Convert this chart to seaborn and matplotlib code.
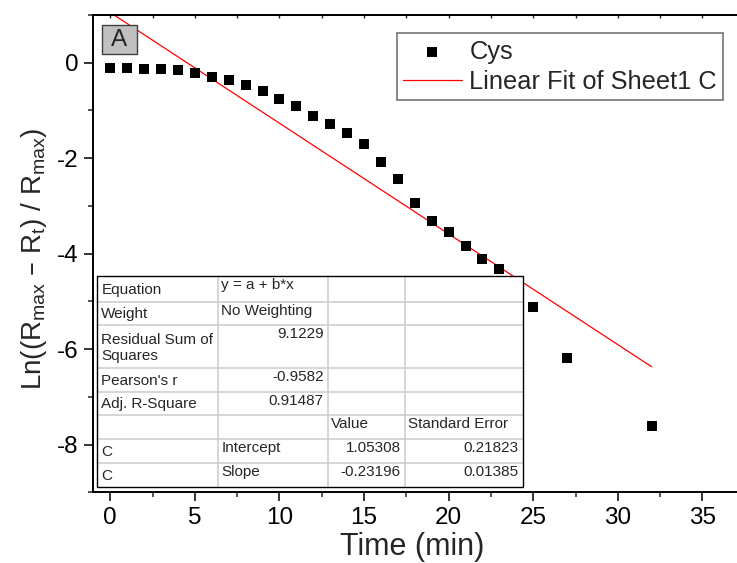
import numpy as np
import pandas as pd
import matplotlib
matplotlib.use("Agg")
import matplotlib.pyplot as plt
from matplotlib.patches import Rectangle
from matplotlib.lines import Line2D
from matplotlib.ticker import MultipleLocator
import seaborn as sns

# ---------------- data ----------------
time_min = [0, 1, 2, 3, 4, 5, 6, 7, 8, 9, 10, 11, 12, 13, 14, 15, 16, 17,
            18, 19, 20, 21, 22, 23, 25, 27, 32]
ln_ratio = [-0.12, -0.12, -0.13, -0.14, -0.16, -0.21, -0.30, -0.37, -0.47,
            -0.59, -0.75, -0.91, -1.11, -1.29, -1.47, -1.71, -2.07, -2.44,
            -2.94, -3.31, -3.54, -3.84, -4.11, -4.33, -5.12, -6.18, -7.62]
fit_intercept = 1.05308
fit_slope = -0.23196
fit_range = [0, 32]

series_label = "Cys"
fit_label = "Linear Fit of Sheet1 C"
x_ticks = [0, 5, 10, 15, 20, 25, 30, 35]
y_ticks = [0, -2, -4, -6, -8]

table_rows = [
    ["Equation", "y = a + b*x", "", ""],
    ["Weight", "No Weighting", "", ""],
    ["Residual Sum of\nSquares", "9.1229", "", ""],
    ["Pearson's r", "-0.9582", "", ""],
    ["Adj. R-Square", "0.91487", "", ""],
    ["", "", "Value", "Standard Error"],
    ["C", "Intercept", "1.05308", "0.21823"],
    ["C", "Slope", "-0.23196", "0.01385"],
]

# ---------------- style ----------------
sns.set_theme(style="ticks")
plt.rcParams["font.family"] = ["Liberation Sans", "DejaVu Sans"]
plt.rcParams["mathtext.default"] = "regular"
plt.rcParams["axes.unicode_minus"] = False

W, H = 737, 563
fig = plt.figure(figsize=(W / 100, H / 100), dpi=100)
fig.patch.set_facecolor("white")


def fx(x):
    return x / W


def fy(y):
    return 1 - y / H


ax_left, ax_right, ax_top, ax_bottom = 93.3, 753.2, 15.0, 492.3
ax = fig.add_axes([fx(ax_left), fy(ax_bottom), fx(ax_right - ax_left),
                   (ax_bottom - ax_top) / H])
ax.set_facecolor("white")

df = pd.DataFrame({"t": time_min, "v": ln_ratio})
fit_df = pd.DataFrame({"t": fit_range,
                       "v": [fit_intercept + fit_slope * t for t in fit_range]})

sns.lineplot(data=fit_df, x="t", y="v", ax=ax, color="#ff0000", lw=0.9,
             label=fit_label, zorder=2)
sns.scatterplot(data=df, x="t", y="v", ax=ax, marker="s", s=62,
                color="black", linewidth=0, label=series_label, zorder=3)

ax.set_xlim(-1, 38)
ax.set_ylim(-9, 1)
ax.set_xticks(x_ticks)
ax.set_yticks(y_ticks)
ax.xaxis.set_minor_locator(MultipleLocator(2.5))
ax.yaxis.set_minor_locator(MultipleLocator(1))

for side in ["left", "bottom", "top"]:
    ax.spines[side].set_linewidth(1.4)
    ax.spines[side].set_color("black")
ax.spines["right"].set_visible(False)

ax.tick_params(axis="both", which="major", direction="out", length=6.5,
               width=1.1, labelsize=17.5, pad=4, colors="black")
ax.tick_params(axis="both", which="minor", direction="out", length=3.6,
               width=1.1)
ax.tick_params(top=False, right=False)

sec = ax.secondary_xaxis("top")
sec.set_xticks(x_ticks)
sec.xaxis.set_minor_locator(MultipleLocator(2.5))
sec.tick_params(which="both", direction="in", length=2.5, width=1.0,
                labeltop=False)
sec.spines["top"].set_linewidth(1.4)

ax.set_xlabel("Time (min)", fontsize=22)
ax.set_ylabel("Ln((R$_{max}$ – R$_{t}$) / R$_{max}$)", fontsize=20)
ax.xaxis.set_label_coords((412 - ax_left) / (ax_right - ax_left), -0.084)
ax.yaxis.set_label_coords((49 - ax_left) / (ax_right - ax_left), 0.49)

# legend
handles, labels = ax.get_legend_handles_labels()
order = [labels.index(series_label), labels.index(fit_label)]
leg = ax.legend([handles[i] for i in order], [labels[i] for i in order],
                loc="upper right", bbox_to_anchor=(fx(723.3), fy(33.3)),
                bbox_transform=fig.transFigure, borderaxespad=0,
                fontsize=18.3, frameon=True, fancybox=False, framealpha=1,
                edgecolor="#808080", handlelength=2.3, handletextpad=0.3,
                labelspacing=0.25, borderpad=0.25, markerscale=1.0)
leg.get_frame().set_linewidth(1.3)

# "A" label box
fig.add_artist(Rectangle((fx(101.7), fy(54)), fx(35), 29 / H,
                         transform=fig.transFigure, facecolor="#c0c0c0",
                         edgecolor="#404040", lw=1.0, zorder=5))
fig.text(fx(119.2), fy(40), "A", fontsize=17.5, ha="center", va="center",
         zorder=6)

# ---------------- result table ----------------
col_edges = [97.3, 218.3, 328.3, 405.3, 523.3]
row_edges = [276, 301.7, 325, 368.3, 391.7, 415, 439.3, 462.7, 486.7]

fig.add_artist(Rectangle((fx(col_edges[0]), fy(row_edges[-1])),
                         fx(col_edges[-1] - col_edges[0]),
                         (row_edges[-1] - row_edges[0]) / H,
                         transform=fig.transFigure, facecolor="white",
                         edgecolor="none", zorder=5))
for xe in col_edges[1:-1]:
    fig.add_artist(Line2D([fx(xe), fx(xe)], [fy(row_edges[0]), fy(row_edges[-1])],
                          transform=fig.transFigure, color="#cccccc", lw=1.1,
                          zorder=6))
for ye in row_edges[1:-1]:
    fig.add_artist(Line2D([fx(col_edges[0]), fx(col_edges[-1])], [fy(ye), fy(ye)],
                          transform=fig.transFigure, color="#cccccc", lw=1.1,
                          zorder=6))
fig.add_artist(Rectangle((fx(col_edges[0]), fy(row_edges[-1])),
                         fx(col_edges[-1] - col_edges[0]),
                         (row_edges[-1] - row_edges[0]) / H,
                         transform=fig.transFigure, facecolor="none",
                         edgecolor="black", lw=1.0, zorder=7))


def is_number(s):
    try:
        float(s)
        return True
    except ValueError:
        return False


for r, row in enumerate(table_rows):
    top, bot = row_edges[r], row_edges[r + 1]
    for c, txt in enumerate(row):
        if not txt:
            continue
        left, right = col_edges[c], col_edges[c + 1]
        if c == 0:
            fig.text(fx(left + 4), fy((top + bot) / 2 + 1), txt, fontsize=11,
                     ha="left", va="center", linespacing=1.2, zorder=8)
        elif is_number(txt):
            fig.text(fx(right - 4.5), fy(top + 2), txt, fontsize=11,
                     ha="right", va="top", zorder=8)
        else:
            fig.text(fx(left + 3), fy(top + 2), txt, fontsize=11,
                     ha="left", va="top", zorder=8)

fig.savefig("out.png", dpi=100, facecolor="white")
